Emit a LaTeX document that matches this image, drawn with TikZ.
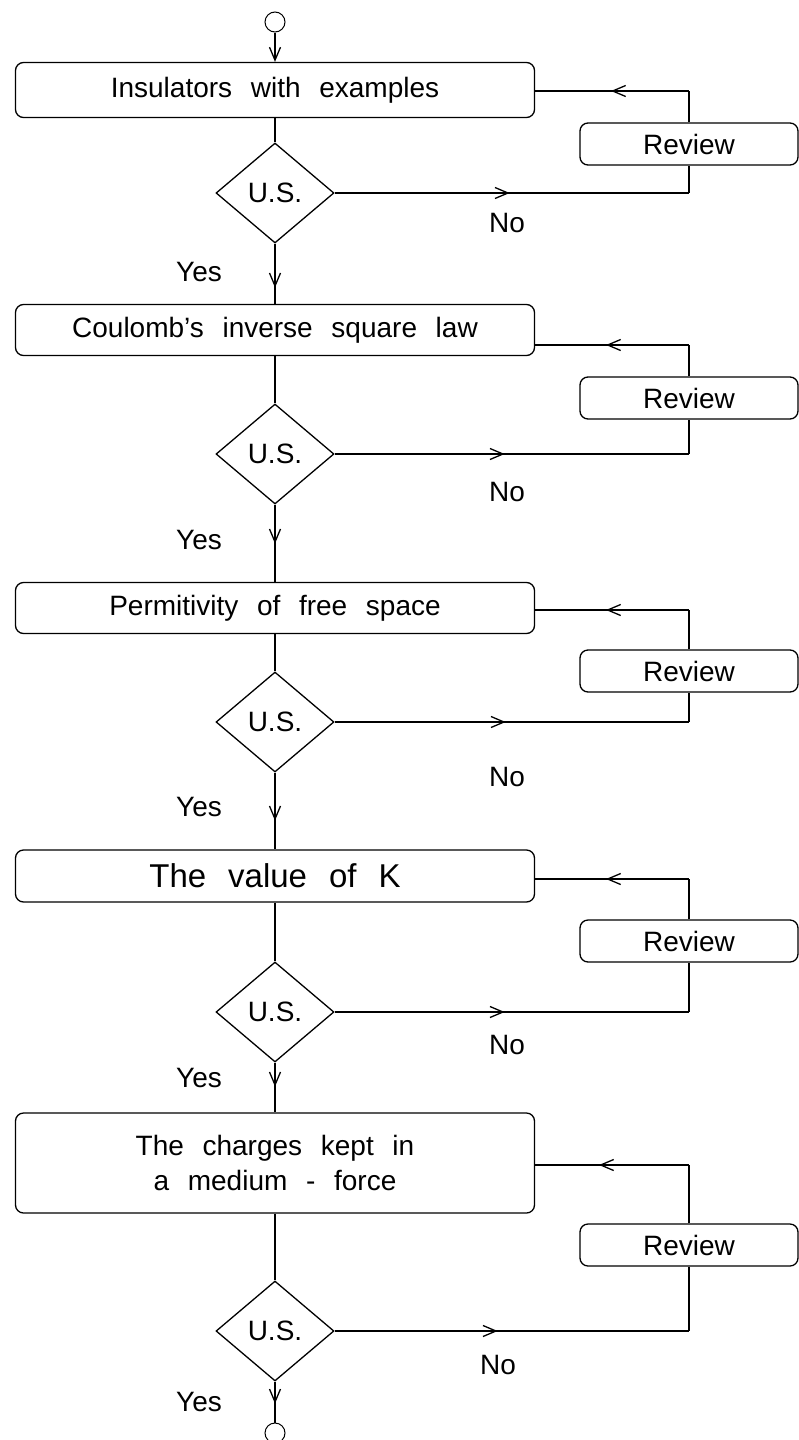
\documentclass[tikz,border=0pt]{standalone}
\usepackage{fontspec}
\setmainfont{Liberation Sans}[WordSpace=2.4]
\usetikzlibrary{shapes.geometric,arrows.meta,decorations.markings}
\begin{document}
\begin{tikzpicture}[x=1pt, y=-1pt, line width=1.3pt,
	every node/.style={font=\fontsize{28}{35}\selectfont},
	>={Straight Barb[length=13pt,width=11pt]},
	topicBox/.style={rectangle, draw, rounded corners=8pt, minimum width=519pt, inner sep=0pt, align=center},
	reviewBox/.style={rectangle, draw, rounded corners=8pt, minimum width=218pt, minimum height=42pt, inner sep=0pt},
	usDiamond/.style={diamond, draw, minimum width=118pt, minimum height=100pt, inner sep=0pt},
	terminalCircle/.style={circle, draw, line width=1pt, minimum size=20pt, inner sep=0pt},
	arrowAt/.style={postaction={decorate}, decoration={markings, mark=at position #1 with {\arrow{>}}}}]
		\useasboundingbox (0,0) rectangle (799,1440);
		\node[terminalCircle](startCircle) at (275,22){};
		\node[topicBox, minimum height=55pt](insulatorsBox) at (275,90){Insulators with examples};
		\node[reviewBox](review1) at (689,144){Review};
		\node[usDiamond](usCheck1) at (275,193){U.S.};
		\node(noLabel1) at (507,223){No};
		\node(yesLabel1) at (199,272){Yes};
		\coordinate(backCorner1) at (689,91);
		\coordinate(noCorner1) at (689,193);
		\node[topicBox, minimum height=51pt](coulombBox) at (275,330){Coulomb's inverse square law};
		\node[reviewBox](review2) at (689,398){Review};
		\node[usDiamond](usCheck2) at (275,454){U.S.};
		\node(noLabel2) at (507,492){No};
		\node(yesLabel2) at (199,540){Yes};
		\coordinate(backCorner2) at (689,345);
		\coordinate(noCorner2) at (689,454);
		\node[topicBox, minimum height=51pt](permitivityBox) at (275,608){Permitivity of free space};
		\node[reviewBox](review3) at (689,671){Review};
		\node[usDiamond](usCheck3) at (275,722){U.S.};
		\node(noLabel3) at (507,777){No};
		\node(yesLabel3) at (199,807){Yes};
		\coordinate(backCorner3) at (689,610);
		\coordinate(noCorner3) at (689,722);
		\node[topicBox, minimum height=52pt, font=\fontsize{33}{40}\selectfont](valueKBox) at (275,876){The value of K};
		\node[reviewBox](review4) at (689,941){Review};
		\node[usDiamond](usCheck4) at (275,1012){U.S.};
		\node(noLabel4) at (507,1045){No};
		\node(yesLabel4) at (199,1078){Yes};
		\coordinate(backCorner4) at (689,879);
		\coordinate(noCorner4) at (689,1012);
		\node[topicBox, minimum height=100pt](mediumBox) at (275,1163){The charges kept in\\ a medium - force};
		\node[reviewBox](review5) at (689,1245){Review};
		\node[usDiamond](usCheck5) at (275,1331){U.S.};
		\node(noLabel5) at (498,1365){No};
		\node(yesLabel5) at (199,1402){Yes};
		\coordinate(backCorner5) at (689,1165);
		\coordinate(noCorner5) at (689,1331);
		\node[terminalCircle](stopCircle) at (275,1433){};
		\draw[->] (startCircle) -- (insulatorsBox);
		\draw (insulatorsBox) -- (usCheck1);
		\draw[arrowAt=44pt] (usCheck1) -- (coulombBox);
		\draw[arrowAt=175pt] (usCheck1.east) -- (noCorner1);
		\draw (noCorner1) -- (review1);
		\draw (review1) -- (backCorner1);
		\draw[arrowAt=78pt] (backCorner1) -- (backCorner1 -| insulatorsBox.east);
		\draw (coulombBox) -- (usCheck2);
		\draw[arrowAt=39pt] (usCheck2) -- (permitivityBox);
		\draw[arrowAt=170pt] (usCheck2.east) -- (noCorner2);
		\draw (noCorner2) -- (review2);
		\draw (review2) -- (backCorner2);
		\draw[arrowAt=83pt] (backCorner2) -- (backCorner2 -| coulombBox.east);
		\draw (permitivityBox) -- (usCheck3);
		\draw[arrowAt=48pt] (usCheck3) -- (valueKBox);
		\draw[arrowAt=171pt] (usCheck3.east) -- (noCorner3);
		\draw (noCorner3) -- (review3);
		\draw (review3) -- (backCorner3);
		\draw[arrowAt=83pt] (backCorner3) -- (backCorner3 -| permitivityBox.east);
		\draw (valueKBox) -- (usCheck4);
		\draw[arrowAt=24pt] (usCheck4) -- (mediumBox);
		\draw[arrowAt=170pt] (usCheck4.east) -- (noCorner4);
		\draw (noCorner4) -- (review4);
		\draw (review4) -- (backCorner4);
		\draw[arrowAt=83pt] (backCorner4) -- (backCorner4 -| valueKBox.east);
		\draw (mediumBox) -- (usCheck5);
		\draw[arrowAt=22pt] (usCheck5) -- (stopCircle);
		\draw[arrowAt=163pt] (usCheck5.east) -- (noCorner5);
		\draw (noCorner5) -- (review5);
		\draw (review5) -- (backCorner5);
		\draw[arrowAt=90pt] (backCorner5) -- (backCorner5 -| mediumBox.east);
	\end{tikzpicture}
\end{document}
